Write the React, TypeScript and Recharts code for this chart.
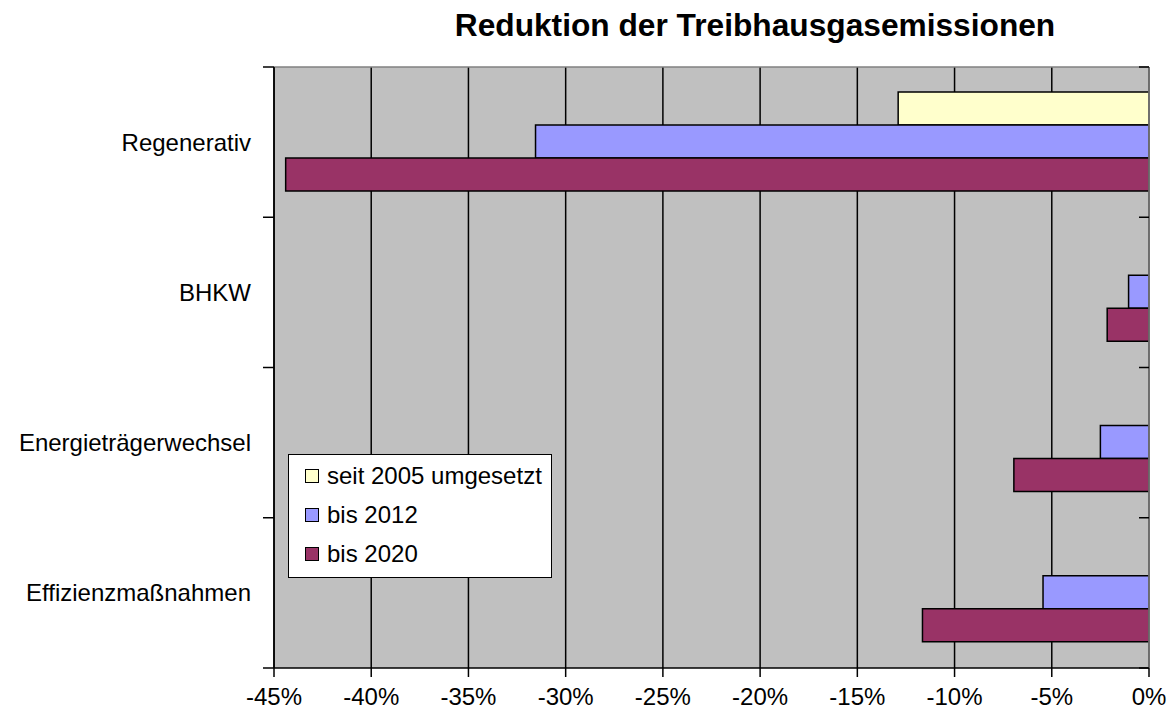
import { BarChart, Bar, XAxis, YAxis, CartesianGrid, Legend } from 'recharts';

// categories top to bottom
const categories = ['Regenerativ', 'BHKW', 'Energieträgerwechsel', 'Effizienzmaßnahmen'];

// reduction in percent
const seit2005 = [-12.9, 0, 0, 0];
const bis2012 = [-31.55, -1.05, -2.5, -5.45];
const bis2020 = [-44.4, -2.15, -6.95, -11.65];

const xTicks = [-45, -40, -35, -30, -25, -20, -15, -10, -5, 0];
// category boundaries on an index scale 0..3
const boundaryTicks = [0, 0.75, 1.5, 2.25, 3];

const seriesNames = ['seit 2005 umgesetzt', 'bis 2012', 'bis 2020'];
const seriesColors = ['#FFFFCC', '#9999FF', '#993366'];

const FONT = 'Arial, "Liberation Sans", sans-serif';

const chartData = categories.map((name, i) => ({
    name,
    seit2005: seit2005[i],
    bis2012: bis2012[i],
    bis2020: bis2020[i],
}));

function LegendBox() {
    return (
        <div
            style={{
                width: 264,
                height: 124,
                boxSizing: 'border-box',
                border: '1.5px solid #000',
                background: '#fff',
                paddingTop: 1,
                fontFamily: FONT,
                fontSize: 24,
                color: '#000',
            }}
        >
            {seriesNames.map((n, i) => (
                <div key={n} style={{ height: 39, display: 'flex', alignItems: 'center', paddingLeft: 16 }}>
                    <span
                        style={{
                            display: 'inline-block',
                            width: 14,
                            height: 14,
                            boxSizing: 'border-box',
                            border: '1px solid #000',
                            background: seriesColors[i],
                            marginRight: 8,
                        }}
                    />
                    <span style={{ lineHeight: '24px' }}>{n}</span>
                </div>
            ))}
        </div>
    );
}

export default function App() {
    return (
        <div style={{ position: 'absolute', left: 0, top: 0, width: 1174, height: 712, background: '#fff' }}>
            <div
                style={{
                    position: 'absolute',
                    left: 405,
                    top: 10,
                    width: 700,
                    textAlign: 'center',
                    fontFamily: FONT,
                    fontWeight: 'bold',
                    fontSize: 31.7,
                    lineHeight: '31px',
                    color: '#000',
                    whiteSpace: 'nowrap',
                }}
            >
                Reduktion der Treibhausgasemissionen
            </div>
            <BarChart
                width={1174}
                height={712}
                data={chartData}
                layout="vertical"
                margin={{ top: 66, right: 24, bottom: 0, left: 0 }}
                barGap={0}
                barCategoryGap="16.7%"
            >
                <CartesianGrid horizontal={false} stroke="#000" strokeWidth={1.5} fill="#C0C0C0" fillOpacity={1} yAxisId="b" />
                <XAxis
                    type="number"
                    domain={[-45, 0]}
                    ticks={xTicks}
                    tickFormatter={(v) => `${v}%`}
                    height={44}
                    tickSize={9}
                    tickMargin={11}
                    axisLine={{ stroke: '#000', strokeWidth: 1.5 }}
                    tickLine={{ stroke: '#000', strokeWidth: 1.5 }}
                    tick={{ fill: '#000', fontSize: 24, fontFamily: FONT }}
                    allowDataOverflow
                />
                <XAxis
                    xAxisId="top"
                    orientation="top"
                    type="number"
                    domain={[-45, 0]}
                    height={1}
                    tick={false}
                    tickLine={false}
                    axisLine={{ stroke: '#808080', strokeWidth: 1.5 }}
                />
                {/* category boundary ticks, left side (outward) */}
                <YAxis
                    yAxisId="a"
                    type="number"
                    domain={[0, 3]}
                    ticks={boundaryTicks}
                    interval={0}
                    width={1}
                    tickFormatter={() => ''}
                    tickSize={11}
                    axisLine={{ stroke: '#000', strokeWidth: 1.5 }}
                    tickLine={{ stroke: '#000', strokeWidth: 1.5 }}
                    allowDataOverflow
                />
                <YAxis
                    yAxisId="b"
                    type="category"
                    dataKey="name"
                    width={273}
                    axisLine={false}
                    tickLine={false}
                    tickSize={0}
                    tickMargin={22}
                    tick={{ fill: '#000', fontSize: 24, fontFamily: FONT }}
                />
                {/* category boundary ticks, right side (pointing inward) */}
                <YAxis
                    yAxisId="rt"
                    orientation="right"
                    type="number"
                    domain={[0, 3]}
                    ticks={boundaryTicks}
                    interval={0}
                    width={1}
                    tickFormatter={() => ''}
                    tickSize={-10}
                    tickMargin={0}
                    axisLine={{ stroke: '#808080', strokeWidth: 1.5 }}
                    tickLine={{ stroke: '#000', strokeWidth: 1.5 }}
                    allowDataOverflow
                />
                <Legend
                    layout="vertical"
                    align="center"
                    verticalAlign="middle"
                    wrapperStyle={{ left: 288, top: 454, width: 264, height: 124 }}
                    content={() => <LegendBox />}
                />
                <Bar yAxisId="b" dataKey="seit2005" name={seriesNames[0]} fill={seriesColors[0]} stroke="#000" strokeWidth={1.5} isAnimationActive={false} />
                <Bar yAxisId="b" dataKey="bis2012" name={seriesNames[1]} fill={seriesColors[1]} stroke="#000" strokeWidth={1.5} isAnimationActive={false} />
                <Bar yAxisId="b" dataKey="bis2020" name={seriesNames[2]} fill={seriesColors[2]} stroke="#000" strokeWidth={1.5} isAnimationActive={false} />
            </BarChart>
        </div>
    );
}
